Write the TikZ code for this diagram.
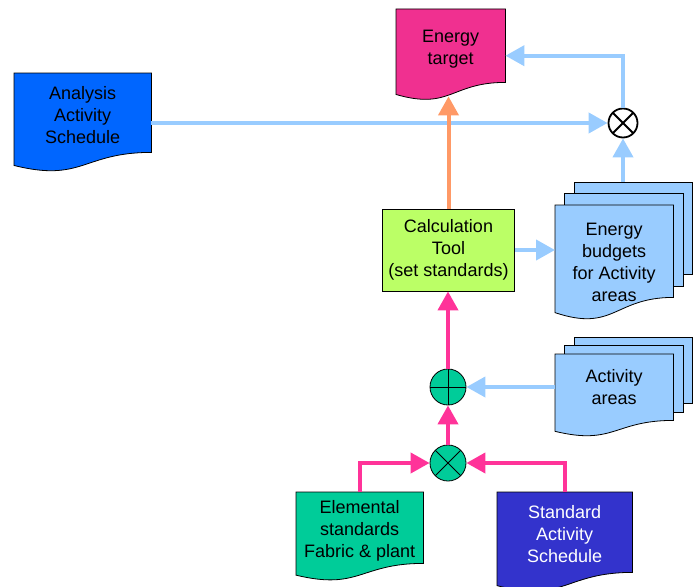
\documentclass[tikz,border=0pt]{standalone}
\usepackage{fontspec}
\setmainfont{Liberation Sans}
\usetikzlibrary{calc,arrows.meta,backgrounds}

\definecolor{targetpink}{RGB}{240,48,144}
\definecolor{linkpink}{RGB}{255,51,153}
\definecolor{schedblue}{RGB}{0,102,255}
\definecolor{paleblue}{RGB}{153,204,255}
\definecolor{toolgreen}{RGB}{187,255,102}
\definecolor{seagreen}{RGB}{0,204,153}
\definecolor{stdblue}{RGB}{51,51,204}
\definecolor{toolorange}{RGB}{255,153,102}

\tikzset{
  page/.style 2 args={rectangle, inner sep=0pt, minimum width=#1pt, minimum height=#2pt, anchor=north west},
  caption/.style={align=center, font=\fontsize{18}{22}\selectfont},
  link/.style={line width=4pt, -{Triangle[length=19pt,width=20pt]}},
  crossop/.style={circle, draw, inner sep=0pt, minimum size=#1, path picture={
      \draw (path picture bounding box.north west) -- (path picture bounding box.south east)
            (path picture bounding box.south west) -- (path picture bounding box.north east);}},
  plusop/.style={circle, draw, inner sep=0pt, minimum size=#1, path picture={
      \draw (path picture bounding box.north) -- (path picture bounding box.south)
            (path picture bounding box.west) -- (path picture bounding box.east);}},
}

\begin{document}
\begin{tikzpicture}[x=1pt, y=-1pt]
  \useasboundingbox (0,0) rectangle (693,586);

  % documents
  \node[page={109}{73}, label={[caption, yshift=-3pt]center:Energy\\target}] (target) at (396,9) {};
  \node[page={137}{79}, label={[caption, yshift=-2pt]center:Analysis\\Activity\\Schedule}] (analysis) at (14,73) {};
  \node[page={118}{92}, label={[caption, yshift=-11pt]center:Energy\\budgets\\for Activity\\areas}] (budgets) at (555,205) {};
  \node[page={118}{66}, label={[caption]center:Activity\\areas}] (areas) at (555,354) {};
  \node[page={127}{71}, label={[caption, yshift=-3pt]center:Elemental\\standards\\Fabric \& plant}] (elemental) at (296,492) {};
  \node[page={135}{80}, label={[caption, yshift=-2pt, text=white]center:Standard\\Activity\\Schedule}] (standard) at (497,492) {};

  \begin{scope}[on background layer]
    % back pages of the stacks
    \foreach \doc/\dy in {budgets/11.5, areas/8.5}{
      \draw[line width=0.8pt, fill=paleblue] ([shift={(19,-2*\dy)}]\doc.north west) rectangle ([shift={(19,-2*\dy)}]\doc.south east);
      \draw[line width=0.8pt, fill=paleblue] ([shift={(9.5,-\dy)}]\doc.north west) rectangle ([shift={(9.5,-\dy)}]\doc.south east);
    }
    % pages with the wavy foot
    \foreach \doc/\col in {target/targetpink, analysis/schedblue, budgets/paleblue, areas/paleblue, elemental/seagreen, standard/stdblue}
      \draw[line width=0.8pt, fill=\col] let \p1=(\doc.north west), \p2=(\doc.south east), \n1={\y1-\y2} in
        (\p1) -- (\x2,\y1) -- (\p2) .. controls ({(\x1+\x2)/2},\y2) and ({(\x1+\x2)/2},{\y1-1.3803*\n1}) .. (\x1,{\y1-1.1646*\n1}) -- cycle;
  \end{scope}

  % tool and operators
  \node[caption, draw, line width=0.8pt, fill=toolgreen, minimum width=132pt, minimum height=82pt] (calc) at (448.5,250) {Calculation\\Tool\\(set standards)};
  \node[crossop=29pt, line width=1.8pt, fill=white] (xsum) at (623,123) {};
  \node[plusop=36pt, line width=0.8pt, fill=seagreen] (plus) at (448,387) {};
  \node[crossop=36pt, line width=0.8pt, fill=seagreen] (xprod) at (448,463) {};

  \coordinate (budgets-top) at ([yshift=23pt]budgets.north);
  \coordinate (target-foot) at ([yshift=-14pt]target.south);

  \draw[link, paleblue] (analysis.east |- xsum) -- (xsum.west);
  \draw[link, paleblue] (xsum.north) |- ([yshift=-10pt]target.east);
  \draw[link, paleblue] (xsum |- budgets-top) -- (xsum.south);
  \draw[link, paleblue] (calc.east) -- (calc.east -| budgets.west);
  \draw[link, toolorange] (calc.north) -- (calc.north |- target-foot);
  \draw[link, linkpink] (plus.north) -- (plus.north |- calc.south);
  \draw[link, paleblue] (areas.west |- plus.east) -- (plus.east);
  \draw[link, linkpink] (xprod.north) -- (plus.south);
  \draw[link, linkpink] (elemental.north) |- (xprod.west);
  \draw[link, linkpink] (standard.north) |- (xprod.east);
\end{tikzpicture}
\end{document}
